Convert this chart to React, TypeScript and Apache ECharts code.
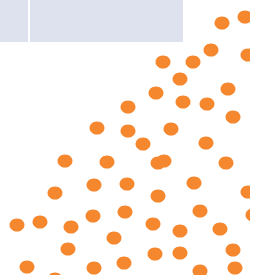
import React, { useEffect, useRef } from "react";
import * as echarts from "echarts";

const xValues = [222, 245, 163, 193, 211, 248, 180, 156, 228, 128, 183, 207, 233, 97, 128, 171, 143, 206, 65, 107, 158, 164, 226, 94, 127, 194, 55, 158, 248, 17, 40, 71, 93, 125, 153, 180, 200, 220, 253, 114, 68, 155, 180, 233, 27, 55, 94, 124, 200, 235];
const yValues = [23, 17, 62, 62, 50, 55, 79, 93, 89, 107, 102, 104, 117, 128, 131, 129, 144, 143, 161, 162, 163, 161, 163, 185, 184, 183, 193, 196, 192, 225, 222, 227, 216, 212, 224, 231, 211, 229, 215, 238, 249, 254, 253, 250, 267, 279, 268, 263, 271, 268];

const headerBlocks = [
  { x0: 0, x1: 28 },
  { x0: 30, x1: 183 },
];

export default function App() {
  const ref = useRef<HTMLDivElement>(null);
  useEffect(() => {
    if (!ref.current) return;
    const chart = echarts.init(ref.current, null, { renderer: "svg" });
    const data = xValues.map((x, i) => [x, yValues[i]]);
    chart.setOption({
      animation: false,
      grid: { left: 0, right: 5, top: 0, bottom: 0 },
      xAxis: { type: "value", min: 0, max: 250, show: false },
      yAxis: { type: "value", min: 0, max: 275, inverse: true, show: false },
      graphic: [
        ...headerBlocks.map((b) => ({
          type: "rect",
          shape: { x: b.x0, y: 0, width: b.x1 - b.x0, height: 42 },
          style: { fill: "#dee1ee" },
        })),
        {
          type: "rect",
          z: 100,
          shape: { x: 250, y: 0, width: 5, height: 275 },
          style: { fill: "#ffffff" },
        },
      ],
      series: [
        {
          type: "scatter",
          data,
          symbol: "circle",
          symbolSize: [15, 13],
          clip: false,
          itemStyle: { color: "#f5872f", opacity: 1 },
        },
      ],
    });
    return () => chart.dispose();
  }, []);
  return (
    <div
      ref={ref}
      style={{ position: "fixed", left: 0, top: 0, width: 255, height: 275 }}
    />
  );
}
